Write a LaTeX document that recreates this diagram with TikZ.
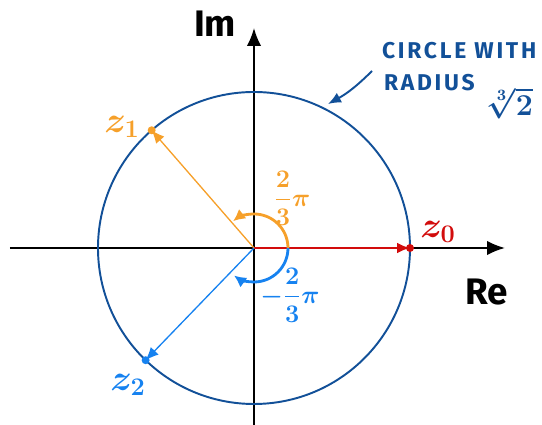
\documentclass[tikz,border=0pt]{standalone}
\usepackage{amsmath}
\usepackage{fontspec}
\setmainfont{Fira Sans}
\newfontfamily\notefont[LetterSpace=12]{Fira Sans}
\usepackage{xcolor}
\usepackage{tikz}
\usetikzlibrary{arrows.meta,positioning,calc}
\definecolor{circblue}{RGB}{18,80,152}
\definecolor{zorange}{RGB}{246,160,42}
\definecolor{zblue}{RGB}{22,130,240}
\definecolor{zred}{RGB}{210,12,12}
\tikzset{
    axisline/.style={
        -{Latex[length=3.6mm,width=2.9mm]},
        line width=1.1pt,
        draw=black
    },
    vecarrow/.style={
        -{Latex[length=2.6mm,width=2.2mm]},
        line width=0.75pt
    },
    anglearc/.style={
        -{Latex[length=2.4mm,width=2.4mm]},
        line width=1.6pt
    },
    pointdot/.style={
        circle,
        inner sep=0pt,
        minimum size=1.6mm
    },
    axislabel/.style={
        font=\fontsize{21}{24}\selectfont\bfseries
    },
    zlabel/.style={
        font=\fontsize{22}{24}\selectfont\boldmath
    },
    anglelabel/.style={
        font=\fontsize{15}{18}\selectfont\boldmath
    },
    notelabel/.style={
        text=circblue,
        inner sep=1pt,
        font=\fontsize{13}{16}\notefont\bfseries
    }
}

\begin{document}
\begin{tikzpicture}[x=0.02cm, y=0.02cm]
    \useasboundingbox (-254,-177) rectangle (288,248);

    \coordinate (O) at (0,0);
    \coordinate (west) at (-244,0);
    \coordinate (east) at (251,0);
    \coordinate (south) at (0,-177);
    \coordinate (north) at (0,220);
    \coordinate (z0) at (0:156);
    \coordinate (z1) at (131:156);
    \coordinate (z2) at (226:156);

    % axes and circle
    \draw[axisline] (west) -- (east);
    \draw[axisline] (south) -- (north);
    \draw[circblue, line width=1.1pt] (O) circle (156);

    \node[axislabel] (im) at (-39,224) {Im};
    \node[axislabel] (re) at (233,-44) {Re};

    % roots
    \draw[vecarrow, zred, line width=1.4pt] (O) -- (z0);
    \draw[vecarrow, zorange] (O) -- (z1);
    \draw[vecarrow, zblue] (O) -- (z2);
    \node[pointdot, fill=zred] (p0) at (z0) {};
    \node[pointdot, fill=zorange] (p1) at (z1) {};
    \node[pointdot, fill=zblue] (p2) at (z2) {};

    \node[zlabel, text=zred] (l0) at (184,16) {$z_0$};
    \node[zlabel, text=zorange] (l1) at (-132,121) {$z_1$};
    \node[zlabel, text=zblue] (l2) at (-126,-137) {$z_2$};

    % angles
    \draw[anglearc, zorange] (34,0) arc[start angle=0, end angle=128, radius=34];
    \draw[anglearc, zblue] (34,0) arc[start angle=0, end angle=-126, radius=34];
    \node[anglelabel, text=zorange] (a1) at (38,50) {$\dfrac{2}{3}\pi$};
    \node[anglelabel, text=zblue] (a2) at (36,-47) {$-\dfrac{2}{3}\pi$};

    % note
    \node[notelabel, anchor=west] (note1) at (126,197) {CIRCLE WITH};
    \node[notelabel, anchor=west] (note2) at (128,165) {RADIUS};
    \node[text=circblue, inner sep=0pt, font=\fontsize{18}{20}\selectfont\boldmath]
        (root) at (256,145) {$\sqrt[3]{2}$};
    \coordinate (notetip) at (74,144);
    \draw[vecarrow, circblue, line width=1.1pt] (note1.west |- 0,177) ++(-8,0)
        coordinate (notestart) to[bend left=8] (notetip);
\end{tikzpicture}
\end{document}
